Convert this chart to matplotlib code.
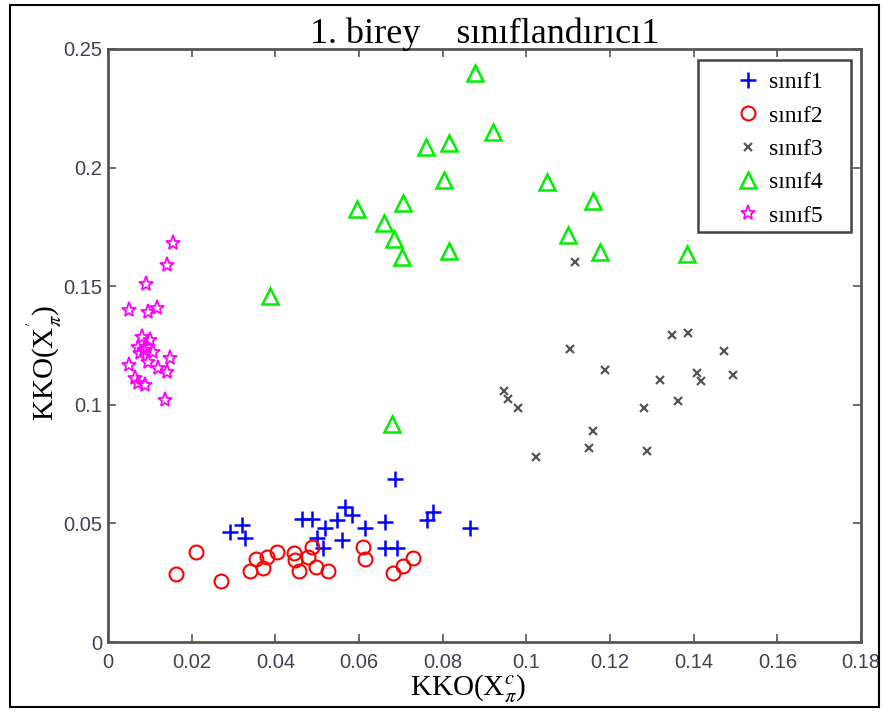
import matplotlib
matplotlib.use('Agg')
import matplotlib.pyplot as plt
from matplotlib.patches import Rectangle

# class 1 (+)
s1_x = [0.0686, 0.0292, 0.0320, 0.0328, 0.0463, 0.0487, 0.0499, 0.0519, 0.0515, 0.0547,
        0.0567, 0.0583, 0.0559, 0.0614, 0.0662, 0.0662, 0.0690, 0.0762, 0.0778, 0.0865]
s1_y = [0.0686, 0.0465, 0.0493, 0.0437, 0.0517, 0.0517, 0.0437, 0.0479, 0.0395, 0.0514,
        0.0570, 0.0535, 0.0430, 0.0479, 0.0507, 0.0395, 0.0395, 0.0514, 0.0549, 0.0479]
# class 2 (o)
s2_x = [0.0163, 0.0210, 0.0269, 0.0339, 0.0354, 0.0371, 0.0379, 0.0403, 0.0445, 0.0447,
        0.0457, 0.0479, 0.0488, 0.0497, 0.0525, 0.0610, 0.0614, 0.0682, 0.0706, 0.0728]
s2_y = [0.0287, 0.0379, 0.0258, 0.0299, 0.0349, 0.0311, 0.0357, 0.0381, 0.0374, 0.0346,
        0.0299, 0.0360, 0.0399, 0.0315, 0.0301, 0.0399, 0.0349, 0.0290, 0.0320, 0.0355]
# class 3 (x)
s3_x = [0.1116, 0.1104, 0.1188, 0.0947, 0.0956, 0.0981, 0.1159, 0.1150, 0.1022, 0.1288,
        0.1282, 0.1320, 0.1362, 0.1349, 0.1386, 0.1473, 0.1407, 0.1417, 0.1495]
s3_y = [0.1601, 0.1235, 0.1147, 0.1059, 0.1024, 0.0985, 0.0891, 0.0819, 0.0781, 0.0805,
        0.0985, 0.1105, 0.1016, 0.1294, 0.1301, 0.1228, 0.1133, 0.1102, 0.1126]
# class 4 (^)
s4_x = [0.0877, 0.0921, 0.0760, 0.0814, 0.0802, 0.1050, 0.1159, 0.0706, 0.0595, 0.0660,
        0.0684, 0.0702, 0.0814, 0.1100, 0.1175, 0.1383, 0.0387, 0.0679]
s4_y = [0.2400, 0.2151, 0.2086, 0.2102, 0.1948, 0.1941, 0.1860, 0.1852, 0.1824, 0.1765,
        0.1699, 0.1624, 0.1648, 0.1716, 0.1643, 0.1636, 0.1459, 0.0919]
# class 5 (*)
s5_x = [0.0156, 0.0140, 0.0091, 0.0049, 0.0095, 0.0116, 0.0081, 0.0100, 0.0072, 0.0093,
        0.0108, 0.0077, 0.0049, 0.0148, 0.0120, 0.0140, 0.0065, 0.0072, 0.0088, 0.0136,
        0.0085, 0.0095]
s5_y = [0.1683, 0.1589, 0.1509, 0.1400, 0.1393, 0.1407, 0.1287, 0.1273, 0.1245, 0.1245,
        0.1224, 0.1217, 0.1168, 0.1196, 0.1154, 0.1140, 0.1112, 0.1091, 0.1083, 0.1020,
        0.1230, 0.1180]

labels = ['sınıf1', 'sınıf2', 'sınıf3', 'sınıf4', 'sınıf5']

xticks = [0, 0.02, 0.04, 0.06, 0.08, 0.1, 0.12, 0.14, 0.16, 0.18]
xticklabels = ['0', '0.02', '0.04', '0.06', '0.08', '0.1', '0.12', '0.14', '0.16', '0.18']
yticks = [0, 0.05, 0.1, 0.15, 0.2, 0.25]
yticklabels = ['0', '0.05', '0.1', '0.15', '0.2', '0.25']

plt.rcParams['mathtext.fontset'] = 'stix'
serif = ['Liberation Serif', 'DejaVu Serif']
narrow = ['Liberation Sans Narrow', 'Liberation Sans', 'DejaVu Sans']

fig = plt.figure(figsize=(8.87, 7.14), dpi=100)
ax = fig.add_axes([0.1218, 0.1008, 0.8489, 0.8306])

ax.plot(s1_x, s1_y, '+', color='#0000ff', ms=11, mew=1.8, label=labels[0])
ax.plot(s2_x, s2_y, 'o', mfc='none', mec='#ff0000', ms=10, mew=1.5, label=labels[1])
ax.plot(s3_x, s3_y, 'x', color='#555555', ms=6, mew=1.6, label=labels[2])
ax.plot(s4_x, s4_y, '^', mfc='none', mec='#00ee00', ms=12, mew=1.8, label=labels[3])
ax.plot(s5_x, s5_y, '*', mfc='none', mec='#ff00ff', ms=11, mew=1.3, label=labels[4])

ax.set_xlim(0, 0.18)
ax.set_ylim(0, 0.25)
ax.set_xticks(xticks)
ax.set_xticklabels(xticklabels)
ax.set_yticks(yticks)
ax.set_yticklabels(yticklabels)
ax.tick_params(direction='in', top=True, right=True, length=6, width=1.2,
               color='#555555', labelsize=14.5, labelcolor='#40405a')
ax.tick_params(axis='y', pad=4)
ax.tick_params(axis='x', pad=8)
for t in ax.get_xticklabels() + ax.get_yticklabels():
    t.set_family(narrow)
for sp in ax.spines.values():
    sp.set_color('#555555')
    sp.set_linewidth(2)

ax.set_title('1. birey    sınıflandırıcı1', family=serif, fontsize=26, pad=4)
ax.set_xlabel(r'KKO(X$^{c}_{\pi}$)', family=serif, fontsize=21)
ax.xaxis.set_label_coords(0.478, -0.052)
ax.set_ylabel(r"KKO(X$^{'}_{\pi}$)", family=serif, fontsize=21)
ax.yaxis.set_label_coords(-0.058, 0.47)

# legend entries without frame, box drawn separately
leg = ax.legend(loc='upper left', prop={'family': serif, 'size': 17},
                frameon=False, borderpad=0.5, borderaxespad=0, labelspacing=0.5,
                handlelength=3.2, handletextpad=-0.7,
                bbox_to_anchor=(0.7835, 0.9815))
ax.add_patch(Rectangle((0.7835, 0.6914), 0.2032, 0.2901, transform=ax.transAxes,
                       fill=True, fc='white', ec='#444444', lw=1.8, zorder=4.9))

# outer frame around the whole figure
fig.patches.append(Rectangle((0.0113, 0.0098), 0.98, 0.983, transform=fig.transFigure,
                             fill=False, ec='black', lw=1.5))

fig.savefig('out.png', dpi=100)
